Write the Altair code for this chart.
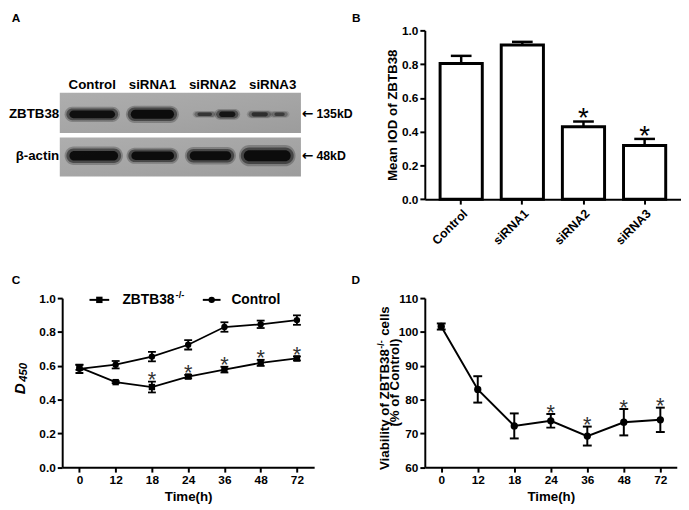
import altair as alt
import pandas as pd

FONT = "Liberation Sans"

# ---------------- Panel A: western blot ----------------
lanes = ["Control", "siRNA1", "siRNA2", "siRNA3"]
blot_rows = ["ZBTB38", "β-actin"]
blot_sizes = ["135kD", "48kD"]
box_top = [-0.52, 0.56]
box_bottom = [0.45, 1.50]
box_left = [-0.54, -0.54]
box_right = [3.47, 3.47]
band_lane = [0, 1, 2, 2, 3, 3, 0, 1, 2, 3]
band_row = [0, 0, 0, 0, 0, 0, 1, 1, 1, 1]
band_from = [-0.41, -0.39, -0.28, 0.08, -0.38, 0.00, -0.41, -0.38, -0.41, -0.51]
band_to = [0.41, 0.39, 0.02, 0.41, -0.05, 0.23, 0.46, 0.39, 0.34, 0.33]
band_thick = [0.27, 0.31, 0.12, 0.19, 0.14, 0.12, 0.33, 0.29, 0.31, 0.38]
band_dark = [0.92, 0.95, 0.55, 0.85, 0.60, 0.50, 0.95, 0.95, 0.95, 0.97]

# ---------------- Panel B ----------------
b_groups = ["Control", "siRNA1", "siRNA2", "siRNA3"]
b_mean = [0.804, 0.913, 0.429, 0.318]
b_err = [0.045, 0.019, 0.031, 0.039]
b_star = [False, False, True, True]

# ---------------- Panel C ----------------
times = ["0", "12", "18", "24", "36", "48", "72"]
ko_mean = [0.590, 0.503, 0.474, 0.536, 0.577, 0.617, 0.643]
ko_err = [0.015, 0.006, 0.032, 0.010, 0.017, 0.018, 0.012]
ko_star = [False, False, True, True, True, True, True]
ctrl_mean = [0.582, 0.606, 0.654, 0.724, 0.829, 0.845, 0.870]
ctrl_err = [0.025, 0.022, 0.028, 0.028, 0.028, 0.022, 0.028]
series_names = ["ZBTB38-/-", "Control"]

# ---------------- Panel D ----------------
viab_mean = [101.6, 83.0, 72.2, 73.7, 69.2, 73.3, 74.0]
viab_err = [0.9, 3.9, 3.7, 2.0, 2.8, 3.9, 3.6]
viab_star = [False, False, False, True, True, True, True]

W1, W2, H = 255.7, 260, 171.3
H2 = 171.6


def one(v):
    return pd.DataFrame({"t": [v]})


def txt(v, x, y, size=12, weight="bold", align="left", baseline="top",
        angle=0, style="normal", color="black"):
    return alt.Chart(one(v)).mark_text(
        font=FONT, fontSize=size, fontWeight=weight, align=align,
        baseline=baseline, angle=angle, fontStyle=style, color=color
    ).encode(text="t:N", x=alt.value(x), y=alt.value(y))


# ===== A =====
xsA = alt.Scale(domain=[-0.5, 3.69], nice=False, zero=False)
ysA = alt.Scale(domain=[-2.03, 2.05], nice=False, zero=False, reverse=True)

box_df = pd.DataFrame({"row": blot_rows, "top": box_top, "bottom": box_bottom,
                       "left": box_left, "right": box_right})
grad = alt.Gradient(gradient="linear",
                    stops=[alt.GradientStop(color="#aeaeae", offset=0),
                           alt.GradientStop(color="#a4a4a4", offset=0.6),
                           alt.GradientStop(color="#9c9c9c", offset=1)],
                    x1=0, x2=1, y1=0, y2=1)
boxes = alt.Chart(box_df).mark_rect(fill=grad).encode(
    x=alt.X("left:Q", scale=xsA, axis=None), x2="right:Q",
    y=alt.Y("top:Q", scale=ysA, axis=None), y2="bottom:Q")

band_df = pd.DataFrame(dict(lane=band_lane, row=band_row, start=band_from,
                            end=band_to, thick=band_thick, dark=band_dark))


def band_layer(gx, gy, op):
    d = band_df.copy()
    d["x1"] = d["lane"] + d["start"] - gx
    d["x2"] = d["lane"] + d["end"] + gx
    d["y1"] = d["row"] - d["thick"] * gy / 2
    d["y2"] = d["row"] + d["thick"] * gy / 2
    d["op"] = d["dark"] * op
    return alt.Chart(d).mark_rect(color="#0a0a0a", cornerRadius=40).encode(
        x=alt.X("x1:Q", scale=xsA, axis=None), x2="x2:Q",
        y=alt.Y("y1:Q", scale=ysA, axis=None), y2="y2:Q",
        opacity=alt.Opacity("op:Q", scale=None))


lane_df = pd.DataFrame({"lane": lanes, "i": list(range(4))})
col_labels = alt.Chart(lane_df).mark_text(
    font=FONT, fontSize=13.5, fontWeight="bold", baseline="middle", color="black"
).encode(x=alt.X("i:Q", scale=xsA, axis=None), y=alt.value(56), text="lane:N")

row_df = pd.DataFrame({"name": blot_rows, "size": blot_sizes, "r": [0, 1]})
row_labels = alt.Chart(row_df).mark_text(
    font=FONT, fontSize=13.5, fontWeight="bold", baseline="middle", align="right", color="black"
).encode(y=alt.Y("r:Q", scale=ysA, axis=None), x=alt.value(-3), text="name:N")
arrows = alt.Chart(row_df).mark_text(
    text="←", font="DejaVu Sans", fontSize=14, fontWeight="bold", baseline="middle",
    align="left", color="black"
).encode(y=alt.Y("r:Q", scale=ysA, axis=None), x=alt.value(243))
size_labels = alt.Chart(row_df).mark_text(
    font=FONT, fontSize=12.5, fontWeight="bold", baseline="middle", align="left", color="black"
).encode(y=alt.Y("r:Q", scale=ysA, axis=None), x=alt.value(258), text="size:N")

panelA = alt.layer(
    boxes,
    band_layer(0.05, 1.35, 0.25),
    band_layer(0.02, 1.05, 0.5),
    band_layer(-0.03, 0.7, 1.0),
    col_labels, row_labels, arrows, size_labels,
    txt("A", -51.3, -17.7),
).properties(width=W1, height=H)

# ===== B =====
b_df = pd.DataFrame({"group": b_groups, "mean": b_mean, "err": b_err, "star": b_star})
b_df["hi"] = b_df["mean"] + b_df["err"]
xB = alt.X("group:N", sort=b_groups,
           scale=alt.Scale(paddingInner=0.31, paddingOuter=0.25),
           axis=alt.Axis(title=None, labelAngle=315, labelAlign="right",
                         labelBaseline="top", labelPadding=3, labelFontSize=12.5))
yB_scale = alt.Scale(domain=[0, 1], nice=False)
yB_axis = alt.Axis(title="Mean IOD of ZBTB38", values=[0, 0.2, 0.4, 0.6, 0.8, 1.0],
                   format=".1f", titlePadding=2)
baseB = alt.Chart(b_df)
barsB = baseB.mark_bar(fill="white", stroke="black", strokeWidth=3).encode(
    x=xB, y=alt.Y("mean:Q", scale=yB_scale, axis=yB_axis))
errB = baseB.mark_rule(color="black", strokeWidth=2.5).encode(
    x=xB, y=alt.Y("mean:Q", scale=yB_scale, axis=yB_axis), y2="hi:Q")
capB = baseB.mark_tick(color="black", size=21, thickness=2.5, opacity=1).encode(
    x=xB, y=alt.Y("hi:Q", scale=yB_scale, axis=yB_axis))
starB = baseB.transform_filter("datum.star").mark_text(
    text="*", font=FONT, fontSize=28, baseline="alphabetic", dy=6, color="black"
).encode(x=xB, y=alt.Y("hi:Q", scale=yB_scale, axis=yB_axis))
panelB = alt.layer(errB, barsB, capB, starB, txt("B", -74, -17.7)).properties(width=W2, height=H)

# ===== C =====
rows = []
for name, means, errs, stars in [(series_names[0], ko_mean, ko_err, ko_star),
                                 (series_names[1], ctrl_mean, ctrl_err, [False] * 7)]:
    for t, m, e, s in zip(times, means, errs, stars):
        rows.append({"time": t, "series": name, "mean": m, "lo": m - e, "hi": m + e, "star": s})
c_df = pd.DataFrame(rows)

xC = alt.X("time:O", sort=times, scale=alt.Scale(type="point", padding=0.475),
           axis=alt.Axis(title="Time(h)", labelAngle=0, titlePadding=4, labelPadding=3,
                         titleFontSize=13.5))
yC_scale = alt.Scale(domain=[0, 1], nice=False)
yC_axis = alt.Axis(title=None, values=[0, 0.2, 0.4, 0.6, 0.8, 1.0], format=".1f")
baseC = alt.Chart(c_df)
lineC = baseC.mark_line(color="black", strokeWidth=1.8).encode(
    x=xC, y=alt.Y("mean:Q", scale=yC_scale, axis=yC_axis), detail="series:N")
errC = baseC.mark_rule(color="black", strokeWidth=1.8).encode(
    x=xC, y=alt.Y("lo:Q", scale=yC_scale, axis=yC_axis), y2="hi:Q")
capLoC = baseC.mark_tick(color="black", size=8, thickness=1.8, opacity=1).encode(
    x=xC, y=alt.Y("lo:Q", scale=yC_scale, axis=yC_axis))
capHiC = baseC.mark_tick(color="black", size=8, thickness=1.8, opacity=1).encode(
    x=xC, y=alt.Y("hi:Q", scale=yC_scale, axis=yC_axis))
ptsC = baseC.mark_point(filled=True, color="black", opacity=1, size=42).encode(
    x=xC, y=alt.Y("mean:Q", scale=yC_scale, axis=yC_axis),
    shape=alt.Shape("series:N", scale=alt.Scale(domain=series_names, range=["square", "circle"]),
                    legend=None))
starC = baseC.transform_filter("datum.star").mark_text(
    text="*", font=FONT, fontSize=22, baseline="alphabetic", dy=5.6, color="#333333"
).encode(x=xC, y=alt.Y("hi:Q", scale=yC_scale, axis=yC_axis))

leg_line1 = alt.Chart(one("ZBTB38-/-")).mark_rule(color="black", strokeWidth=2).encode(
    x=alt.value(27.7), x2=alt.value(47.7), y=alt.value(1.8))
leg_pt1 = alt.Chart(one("ZBTB38-/-")).mark_point(shape="square", filled=True, color="black",
                                                 opacity=1, size=42).encode(
    x=alt.value(37.7), y=alt.value(1.8))
leg_line2 = alt.Chart(one("Control")).mark_rule(color="black", strokeWidth=2).encode(
    x=alt.value(142.7), x2=alt.value(160.7), y=alt.value(1.8))
leg_pt2 = alt.Chart(one("Control")).mark_point(shape="circle", filled=True, color="black",
                                               opacity=1, size=42).encode(
    x=alt.value(151.7), y=alt.value(1.8))

panelC = alt.layer(
    lineC, errC, capLoC, capHiC, ptsC, starC,
    leg_line1, leg_pt1, leg_line2, leg_pt2,
    txt("ZBTB38", 114, 2, size=14, align="right", baseline="middle"),
    txt("-/-", 115, -3, size=9.5, baseline="middle"),
    txt("Control", 171.7, 2, size=14, baseline="middle"),
    txt("D", -42.3, 86.5, size=15.5, align="right", baseline="middle", angle=270, style="italic"),
    txt("450", -38.3, 85.0, size=11.5, align="left", baseline="middle", angle=270, style="italic"),
    txt("C", -51.3, -23.7),
).properties(width=W1, height=H2)

# ===== D =====
d_df = pd.DataFrame({"time": times, "mean": viab_mean, "err": viab_err, "star": viab_star})
d_df["lo"] = d_df["mean"] - d_df["err"]
d_df["hi"] = d_df["mean"] + d_df["err"]
xD = alt.X("time:O", sort=times, scale=alt.Scale(type="point", padding=0.45),
           axis=alt.Axis(title="Time(h)", labelAngle=0, titlePadding=4, labelPadding=3,
                         titleFontSize=13.5))
yD_scale = alt.Scale(domain=[60, 110], nice=False, zero=False)
yD_axis = alt.Axis(title=None, values=[60, 70, 80, 90, 100, 110])
baseD = alt.Chart(d_df)
lineD = baseD.mark_line(color="black", strokeWidth=2).encode(
    x=xD, y=alt.Y("mean:Q", scale=yD_scale, axis=yD_axis))
errD = baseD.mark_rule(color="black", strokeWidth=2).encode(
    x=xD, y=alt.Y("lo:Q", scale=yD_scale, axis=yD_axis), y2="hi:Q")
capLoD = baseD.mark_tick(color="black", size=9, thickness=2, opacity=1).encode(
    x=xD, y=alt.Y("lo:Q", scale=yD_scale, axis=yD_axis))
capHiD = baseD.mark_tick(color="black", size=9, thickness=2, opacity=1).encode(
    x=xD, y=alt.Y("hi:Q", scale=yD_scale, axis=yD_axis))
ptsD = baseD.mark_point(filled=True, color="black", opacity=1, size=55, shape="circle").encode(
    x=xD, y=alt.Y("mean:Q", scale=yD_scale, axis=yD_axis))
starD = baseD.transform_filter("datum.star").mark_text(
    text="*", font=FONT, fontSize=22, baseline="alphabetic", dy=5.6, color="#333333"
).encode(x=xD, y=alt.Y("hi:Q", scale=yD_scale, axis=yD_axis))

panelD = alt.layer(
    lineD, errD, capLoD, capHiD, ptsD, starD,
    txt("Viability of ZBTB38", -40.0, 51.8, size=13.5, align="right", baseline="middle", angle=270),
    txt("-/-", -44.3, 51.3, size=9, align="left", baseline="middle", angle=270),
    txt("cells", -40.0, 38.3, size=13.5, align="left", baseline="middle", angle=270),
    txt("(% of Control)", -29.8, 85.8, size=13.5, align="center", baseline="middle", angle=270),
    txt("D", -74.3, -23.7),
).properties(width=W1, height=H2)

chart = alt.concat(
    panelA, panelB, panelC, panelD,
    columns=2, spacing={"row": 99.7, "column": 112}, bounds="flush", align="each",
).properties(padding=0).configure_view(stroke=None).configure_axis(
    domainColor="black", domainWidth=2, tickColor="black", tickWidth=2, tickSize=5,
    labelFont=FONT, labelFontSize=12, labelFontWeight="bold", labelColor="black",
    titleFont=FONT, titleFontSize=13.5, titleFontWeight="bold", titleColor="black",
    grid=False, labelPadding=2,
)

chart.save("out.html", embed_options={"renderer": "svg", "actions": False})
